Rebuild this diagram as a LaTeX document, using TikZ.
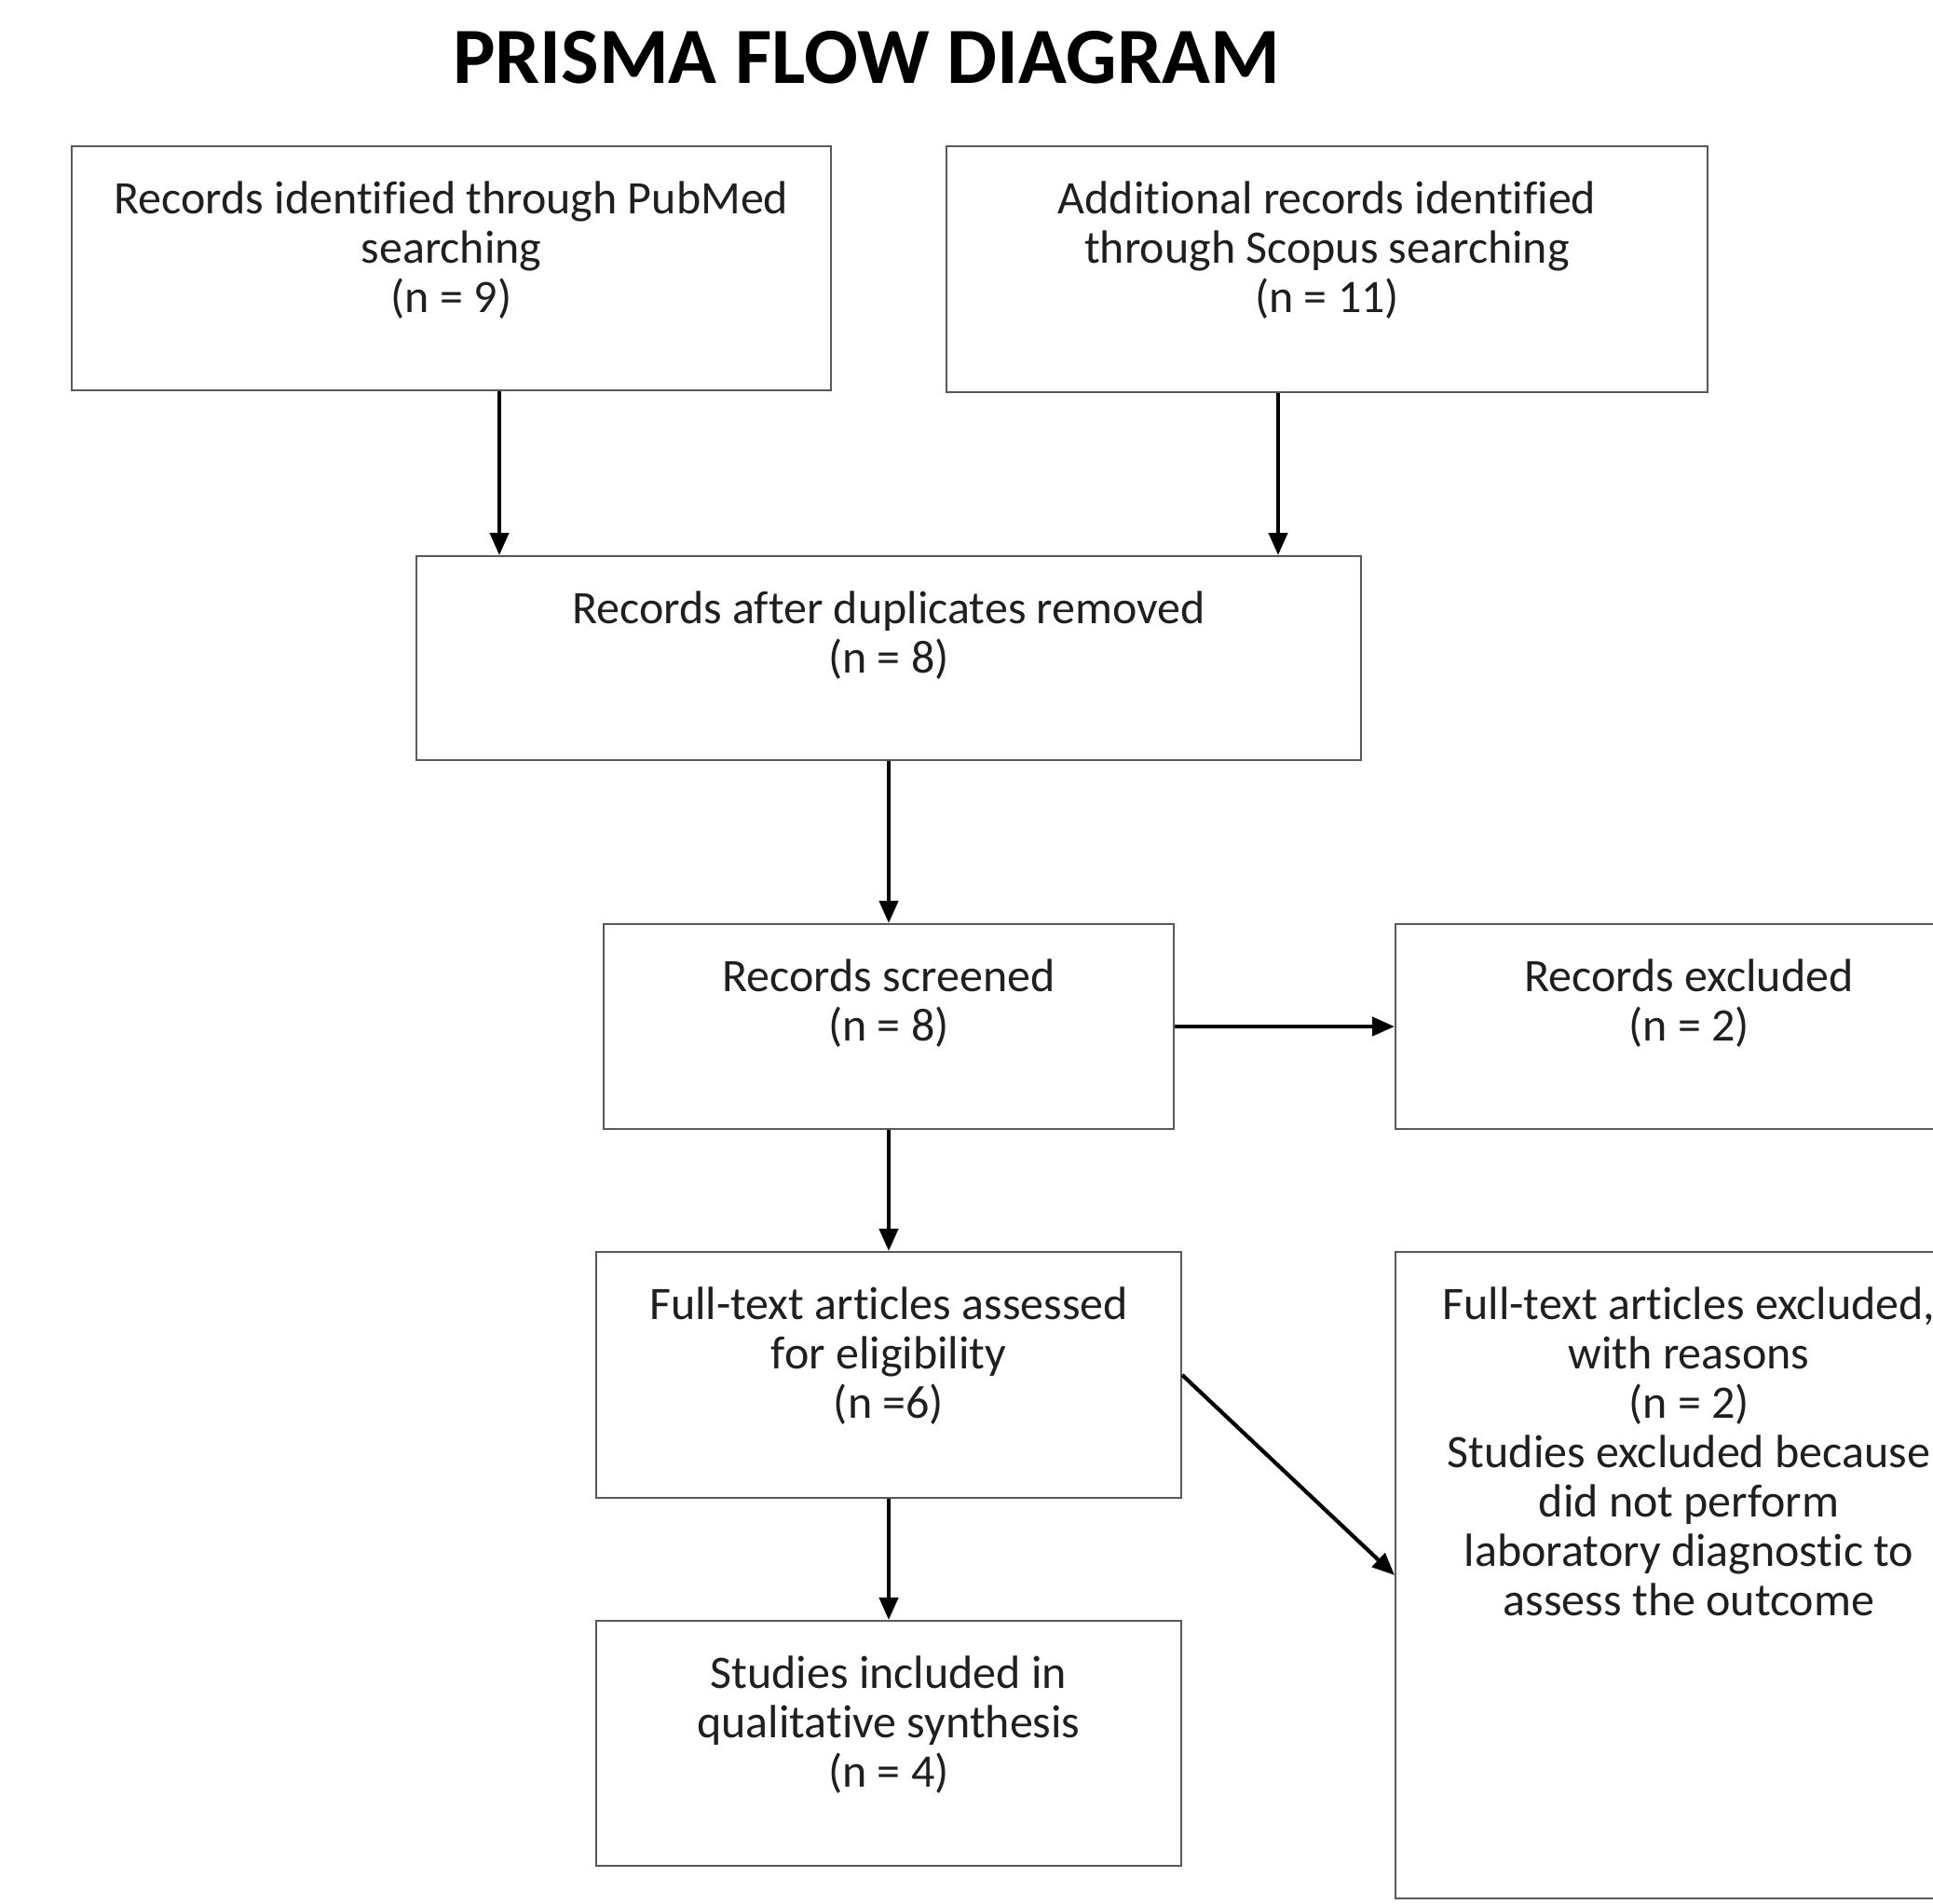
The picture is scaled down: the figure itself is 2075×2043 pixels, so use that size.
\documentclass[tikz,border=0pt]{standalone}
\usepackage{fontspec}
\setmainfont{Carlito}[Ligatures={NoCommon}]
\usepackage{xcolor}
\definecolor{boxline}{gray}{.35}
\definecolor{ink}{gray}{.12}
\usetikzlibrary{positioning,arrows.meta,calc}

\begin{document}
\begin{tikzpicture}[x=0.25pt,y=-0.25pt,
  box/.style={draw=boxline, line width=.5pt, inner sep=0pt},
  txt/.style={anchor=north, inner ysep=9.6pt, align=center, text=ink,
    font=\fontsize{12.5}{13.25}\selectfont},
  flow/.style={-{Triangle[length=6pt,width=5pt]}, line width=1.05pt}]
\useasboundingbox (0,0) rectangle (2075,2043);
\clip (0,0) rectangle (2075,2043);

%%% title
\node[font=\fontsize{21.4}{24}\bfseries] (title) at (930,62) {PRISMA FLOW DIAGRAM};

%%% identification
\node[box, minimum width=203.75pt, minimum height=65.5pt,
  label={[txt]north:Records identified through PubMed\\searching\\(n = 9)}] (pubmed) at (484.5,288) {};
\node[box, minimum width=204.25pt, minimum height=66pt,
  label={[txt]north:Additional records identified\\through Scopus searching\\(n = 11)}] (scopus) at (1424.5,289) {};

%%% screening
\node[box, minimum width=253.5pt, minimum height=54.75pt,
  label={[txt]north:Records after duplicates removed\\(n = 8)}] (dedup) at (954,706.5) {};
\node[box, minimum width=153pt, minimum height=55pt,
  label={[txt]north:Records screened\\(n = 8)}] (screened) at (954,1102) {};
\node[box, minimum width=157.5pt, minimum height=55pt,
  label={[txt]north:Records excluded\\(n = 2)}] (excluded) at (1813,1102) {};

%%% eligibility
\node[box, minimum width=157pt, minimum height=66pt,
  label={[txt]north:Full-text articles assessed\\for eligibility\\(n =6)}] (eligible) at (954,1476) {};
\node[box, minimum width=157.5pt, minimum height=173.5pt,
  label={[txt]north:Full-text articles excluded,\\with reasons\\(n = 2)\\Studies excluded because\\did not perform\\laboratory diagnostic to\\assess the outcome}] (ftexcl) at (1813,1691) {};

%%% included
\node[box, minimum width=157pt, minimum height=65.75pt,
  label={[txt]north:Studies included in\\qualitative synthesis\\(n = 4)}] (included) at (954,1871.5) {};

\coordinate (pmx) at (536,0);
\coordinate (scx) at (1372,0);

\draw[flow] (pubmed.south -| pmx) -- (dedup.north -| pmx);
\draw[flow] (scopus.south -| scx) -- (dedup.north -| scx);
\draw[flow] (dedup) -- (screened);
\draw[flow] (screened) -- (excluded);
\draw[flow] (screened) -- (eligible);
\draw[flow] (eligible.east) -- (ftexcl.west);
\draw[flow] (eligible) -- (included);

\end{tikzpicture}
\end{document}
